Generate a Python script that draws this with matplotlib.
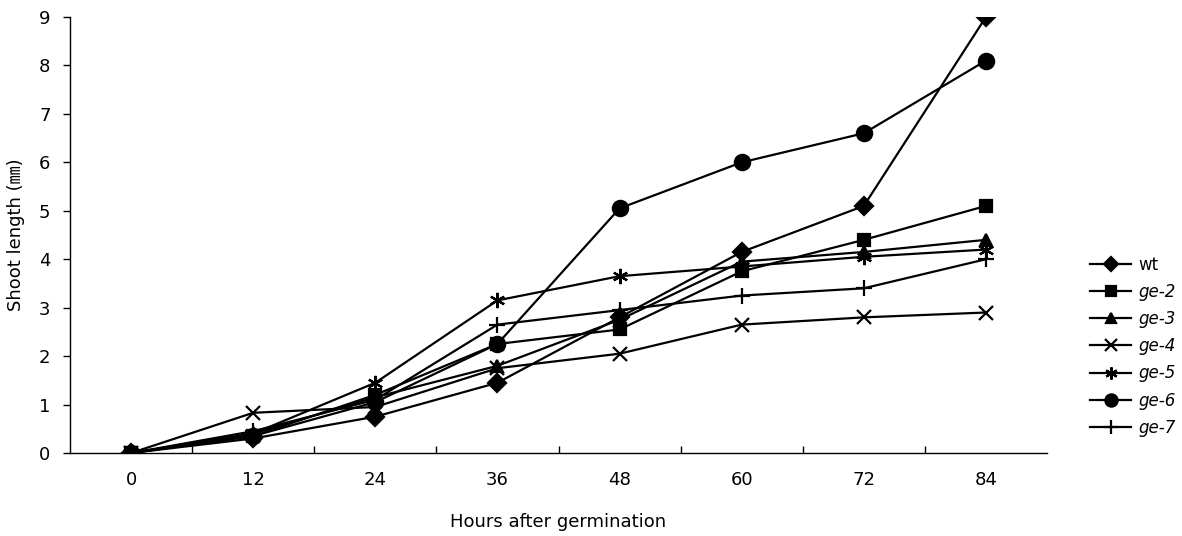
import matplotlib
matplotlib.use("Agg")
import matplotlib.pyplot as plt
from matplotlib.ticker import FixedLocator

plt.rcParams['font.family'] = ['DejaVu Sans', 'Noto Sans CJK KR']

hours = [0, 12, 24, 36, 48, 60, 72, 84]
wt  = [0, 0.30, 0.75, 1.45, 2.80, 4.15, 5.10, 9.00]
ge2 = [0, 0.35, 1.20, 2.25, 2.55, 3.75, 4.40, 5.10]
ge3 = [0, 0.40, 1.15, 1.80, 2.75, 3.95, 4.15, 4.40]
ge4 = [0, 0.83, 0.95, 1.75, 2.05, 2.65, 2.80, 2.90]
ge5 = [0, 0.40, 1.45, 3.15, 3.65, 3.85, 4.05, 4.20]
ge6 = [0, 0.35, 1.05, 2.25, 5.05, 6.00, 6.60, 8.10]
ge7 = [0, 0.45, 1.10, 2.65, 2.95, 3.25, 3.40, 4.00]

series = [
    ("wt", wt, "D", 9, False),
    ("ge-2", ge2, "s", 9, True),
    ("ge-3", ge3, "^", 9, True),
    ("ge-4", ge4, "x", 10, True),
    ("ge-5", ge5, (6, 2, 0), 11, True),
    ("ge-6", ge6, "o", 11, True),
    ("ge-7", ge7, "+", 12, True),
]

fig = plt.figure(figsize=(11.82, 5.36), dpi=100)
ax = fig.add_axes([70/1182, 1 - 453/536, (1047 - 70)/1182, (453 - 17)/536])

xpos = list(range(len(hours)))
for name, vals, mk, ms, ital in series:
    ax.plot(xpos, vals, color='black', lw=1.6, marker=mk, markersize=ms,
            markeredgewidth=1.6, label=name)

ax.set_xlim(-0.5, len(hours) - 0.5)
ax.set_ylim(0, 9)
ax.set_xticks(xpos)
ax.set_xticklabels([str(h) for h in hours])
ax.xaxis.set_minor_locator(FixedLocator([i + 0.5 for i in range(len(hours) - 1)]))
ax.tick_params(axis='x', which='major', length=0, pad=13, labelsize=13)
ax.tick_params(axis='x', which='minor', direction='in', length=5, width=1)
ax.set_yticks(range(10))
ax.tick_params(axis='y', which='major', direction='out', length=5, width=1, pad=9, labelsize=13)

for s in ['top', 'right']:
    ax.spines[s].set_visible(False)
for s in ['left', 'bottom']:
    ax.spines[s].set_linewidth(1.0)

ax.set_xlabel("Hours after germination", fontsize=13, labelpad=17)
ax.set_ylabel("Shoot length (㎜)", fontsize=13, labelpad=10)

leg = ax.legend(loc='center left', bbox_to_anchor=(1.037, 0.245), frameon=False,
                fontsize=12, handlelength=2.5, handletextpad=0.4, labelspacing=0.55,
                borderaxespad=0, markerscale=0.8)
for t, (name, vals, mk, ms, ital) in zip(leg.get_texts(), series):
    if ital:
        t.set_style('italic')

fig.savefig("out.png", dpi=100)
